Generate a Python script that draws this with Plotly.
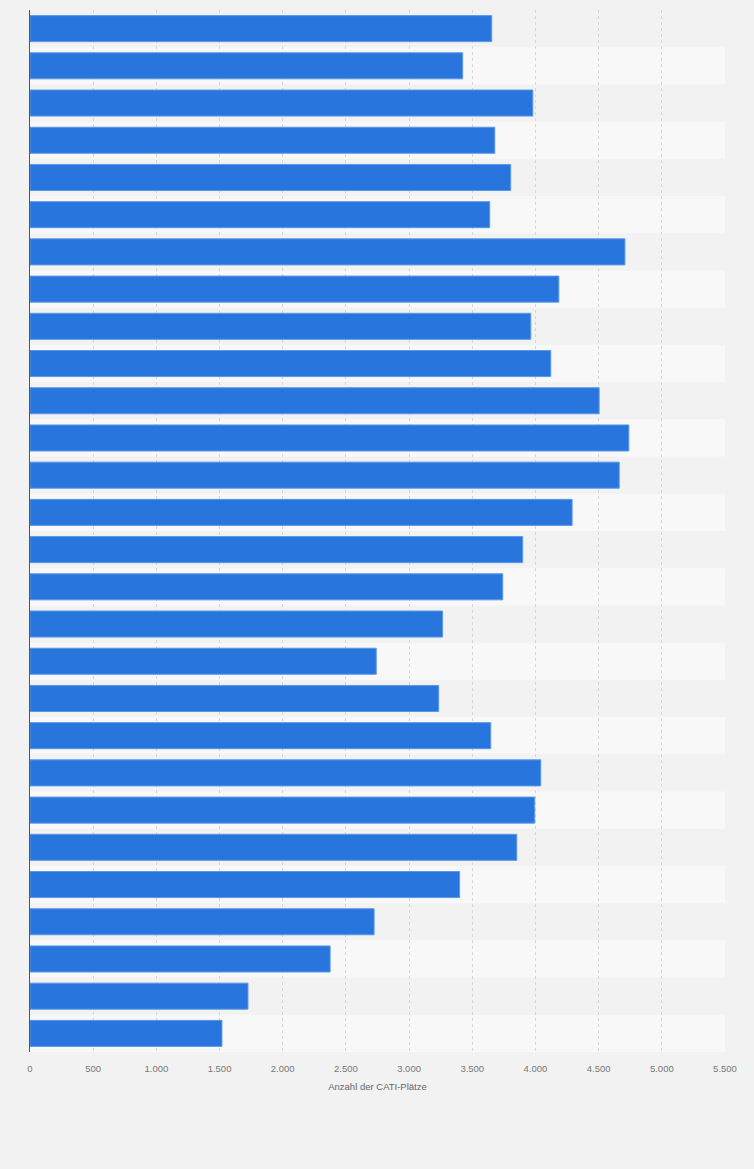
import plotly.graph_objects as go

categories = [str(i) for i in range(1, 29)]
values = [3654, 3424, 3979, 3678, 3804, 3638, 4708, 4185, 3963, 4121,
          4504, 4739, 4663, 4290, 3899, 3741, 3265, 2740, 3234, 3646,
          4042, 3994, 3852, 3400, 2723, 2375, 1725, 1519]
tick_values = [0, 500, 1000, 1500, 2000, 2500, 3000, 3500, 4000, 4500, 5000, 5500]
x_title = "Anzahl der CATI-Plätze"

fig = go.Figure()
fig.add_trace(go.Bar(
    x=values, y=categories, orientation="h",
    marker=dict(color="#2876dd", line=dict(color="#5b98e8", width=1)),
    hoverinfo="x",
))

shapes = []
for i, c in enumerate(categories):
    if i % 2 == 1:
        shapes.append(dict(type="rect", xref="paper", yref="y", x0=0, x1=1,
                           y0=i - 0.5, y1=i + 0.5, fillcolor="#f8f8f8",
                           line=dict(width=0), layer="below"))

fig.update_layout(
    width=754, height=1169,
    margin=dict(l=30, r=29, t=10, b=117),
    paper_bgcolor="#f2f2f2", plot_bgcolor="#f2f2f2",
    bargap=0.3, showlegend=False,
    separators=",.",
    shapes=shapes,
    font=dict(family="Liberation Sans, Arial, sans-serif", color="#666666", size=9),
    xaxis=dict(range=[0, 5500], tickvals=tick_values, tickformat=",d",
               showgrid=True, gridcolor="#d6d6d6", griddash="dot", gridwidth=1,
               zeroline=False, ticks="outside", ticklen=8, tickcolor="rgba(0,0,0,0)",
               tickfont=dict(size=9.5, color="#777777"),
               title=dict(text=x_title, font=dict(size=9.5, color="#666666"), standoff=9),
               layer="below traces"),
    yaxis=dict(autorange="reversed", showticklabels=False, showgrid=False,
               zeroline=False, showline=True, linecolor="#555555", linewidth=1,
               ticks=""),
)

fig.write_html(
    "out.html",
    config={"displayModeBar": False},
    post_script="document.body.style.margin='0';document.body.style.background='#f2f2f2';",
)
